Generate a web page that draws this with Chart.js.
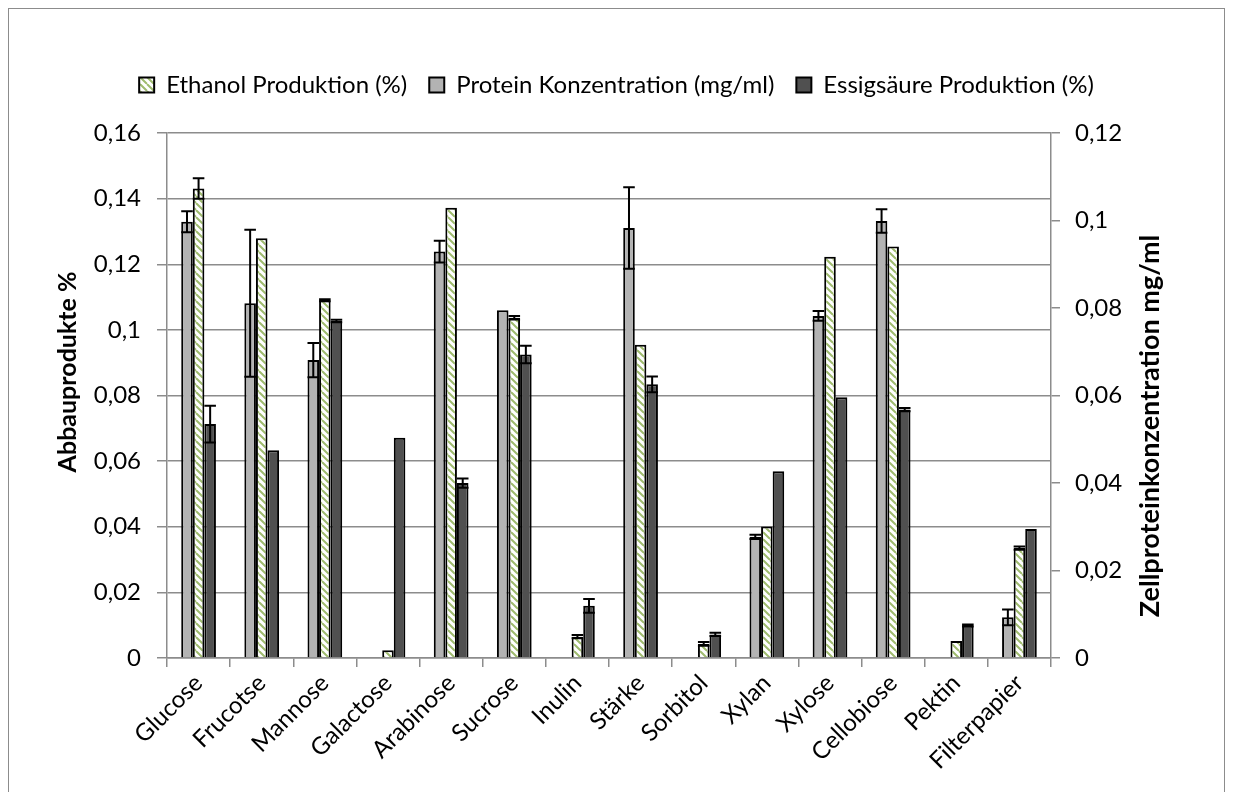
<!DOCTYPE html>
<html>
<head>
<meta charset="utf-8">
<script src="https://cdn.jsdelivr.net/npm/chart.js@4.4.1/dist/chart.umd.min.js"></script>
<style>
  html, body { margin: 0; padding: 0; background: #fff; }
  #chart { display: block; }
</style>
</head>
<body>
<canvas id="chart" width="1233" height="792"></canvas>
<script>
const categories = ["Glucose", "Frucotse", "Mannose", "Galactose", "Arabinose", "Sucrose", "Inulin",
  "Stärke", "Sorbitol", "Xylan", "Xylose", "Cellobiose", "Pektin", "Filterpapier"];

// Protein Konzentration (mg/ml), right axis
const proteinValues = [0.0997, 0.0811, 0.0681, 0, 0.0929, 0.0795, 0, 0.0983, 0, 0.0277, 0.0782, 0.0999, 0, 0.0093];
const proteinErrors = [0.0024, 0.0168, 0.0039, null, 0.0025, null, null, 0.0093, null, 0.0005, 0.0011, 0.0027, null, 0.0018];

// Ethanol Produktion (%), left axis
const ethanolValues = [0.1431, 0.1279, 0.1090, 0.0024, 0.1372, 0.1037, 0.0065, 0.0955, 0.0043, 0.0401, 0.1223, 0.1254, 0.0052, 0.0335];
const ethanolErrors = [0.0031, null, 0.0003, null, null, 0.0005, 0.0005, null, 0.0006, null, null, null, null, 0.0005];

// Essigsäure Produktion (%), left axis
const essigValues = [0.0713, 0.0633, 0.1027, 0.0671, 0.0533, 0.0925, 0.0159, 0.0834, 0.0072, 0.0569, 0.0795, 0.0757, 0.0099, 0.0393];
const essigErrors = [0.0056, null, 0.0004, null, 0.0014, 0.0027, 0.0021, 0.0024, 0.0005, null, null, 0.0005, 0.0003, null];

const legendOrder = { 1: 0, 0: 1, 2: 2 };

const FONT = "Lato, 'Open Sans', sans-serif";
const gridColor = "#8c8c8c";

function hatch() {
  const c = document.createElement("canvas");
  c.width = 7; c.height = 7;
  const g = c.getContext("2d");
  g.fillStyle = "#fff";
  g.fillRect(0, 0, 7, 7);
  g.strokeStyle = "#9fbb6e";
  g.lineWidth = 2;
  g.beginPath();
  for (let k = -7; k <= 7; k += 7) {
    g.moveTo(k, 0);
    g.lineTo(k + 7, 7);
  }
  g.stroke();
  return g.createPattern(c, "repeat");
}

const fmt = (v) => String(+Number(v).toFixed(2)).replace(".", ",");

const errorBars = {
  id: "errorBars",
  afterDatasetsDraw(chart) {
    const ctx = chart.ctx;
    chart.data.datasets.forEach((ds, i) => {
      const meta = chart.getDatasetMeta(i);
      const scale = chart.scales[ds.yAxisID];
      meta.data.forEach((bar, j) => {
        const e = ds.errors[j];
        if (e == null) return;
        const v = ds.data[j];
        const yt = scale.getPixelForValue(v + e);
        const yb = scale.getPixelForValue(v - e);
        const half = bar.width / 2;
        ctx.save();
        ctx.strokeStyle = "#000";
        ctx.lineWidth = 2;
        ctx.beginPath();
        ctx.moveTo(bar.x, yt); ctx.lineTo(bar.x, yb);
        ctx.moveTo(bar.x - half, yt); ctx.lineTo(bar.x + half, yt);
        ctx.moveTo(bar.x - half, yb); ctx.lineTo(bar.x + half, yb);
        ctx.stroke();
        ctx.restore();
      });
    });
  }
};

const frameAndTitles = {
  id: "frameAndTitles",
  afterInit(chart) {
    const lg = chart.legend;
    const fit = lg.fit;
    lg.fit = function () {
      fit.call(this);
      this.height = 134 - 52;
    };
  },
  beforeDraw(chart) {
    const ctx = chart.ctx;
    ctx.save();
    ctx.fillStyle = "#fff";
    ctx.fillRect(0, 0, chart.width, chart.height);
    ctx.strokeStyle = "#8c8c8c";
    ctx.lineWidth = 1;
    ctx.strokeRect(8.5, 8.5, 1216, 800);
    ctx.restore();
  },
  afterDraw(chart) {
    const ctx = chart.ctx;
    ctx.save();
    ctx.fillStyle = "#000";
    ctx.font = "bold 25px " + FONT;
    ctx.textAlign = "center";
    ctx.textBaseline = "middle";
    ctx.translate(68, 372);
    ctx.rotate(-Math.PI / 2);
    ctx.fillText("Abbauprodukte %", 0, 0);
    ctx.restore();
    ctx.save();
    ctx.fillStyle = "#000";
    ctx.font = "bold 27px " + FONT;
    ctx.textAlign = "center";
    ctx.textBaseline = "middle";
    ctx.translate(1150, 426);
    ctx.rotate(-Math.PI / 2);
    ctx.fillText("Zellproteinkonzentration mg/ml", 0, 0);
    ctx.restore();
  }
};

const ctx = document.getElementById("chart").getContext("2d");

new Chart(ctx, {
  type: "bar",
  data: {
    labels: categories,
    datasets: [
      {
        label: "Protein Konzentration (mg/ml)",
        data: proteinValues,
        errors: proteinErrors,
        yAxisID: "y1",
        backgroundColor: "#b3b3b3",
        borderColor: "#000",
        borderWidth: 2
      },
      {
        label: "Ethanol Produktion (%)",
        data: ethanolValues,
        errors: ethanolErrors,
        yAxisID: "y",
        backgroundColor: hatch(),
        borderColor: "#000",
        borderWidth: 2
      },
      {
        label: "Essigsäure Produktion (%)",
        data: essigValues,
        errors: essigErrors,
        yAxisID: "y",
        backgroundColor: "#505050",
        borderColor: "#000",
        borderWidth: 2
      }
    ]
  },
  options: {
    responsive: false,
    animation: false,
    layout: { padding: { top: 51, left: 0, right: 0, bottom: 0 } },
    datasets: { bar: { categoryPercentage: 0.55, barPercentage: 1.0 } },
    plugins: {
      legend: {
        position: "top",
        labels: {
          color: "#000",
          font: { family: FONT, size: 24 },
          boxWidth: 15,
          boxHeight: 15,
          padding: 22,
          sort: (a, b) => legendOrder[a.datasetIndex] - legendOrder[b.datasetIndex]
        }
      },
      tooltip: { enabled: false }
    },
    scales: {
      x: {
        afterFit: (s) => { s.height = 134; },
        grid: { offset: true, drawOnChartArea: false, color: gridColor, lineWidth: 1.5, tickLength: 9 },
        border: { color: gridColor, width: 1.5 },
        ticks: {
          autoSkip: false,
          maxRotation: 45,
          minRotation: 45,
          padding: 2,
          color: "#000",
          font: { family: FONT, size: 24 }
        }
      },
      y: {
        position: "left",
        min: 0,
        max: 0.16,
        afterFit: (s) => { s.width = 167; },
        grid: { color: gridColor, lineWidth: 1.5, tickLength: 10 },
        border: { color: gridColor, width: 1.5 },
        ticks: {
          stepSize: 0.02,
          padding: 16,
          color: "#000",
          font: { family: FONT, size: 24 },
          callback: (v) => fmt(v)
        }
      },
      y1: {
        position: "right",
        min: 0,
        max: 0.12,
        afterFit: (s) => { s.width = 182; },
        grid: { drawOnChartArea: false, color: gridColor, lineWidth: 1.5, tickLength: 9 },
        border: { color: gridColor, width: 1.5 },
        ticks: {
          stepSize: 0.02,
          padding: 15,
          color: "#000",
          font: { family: FONT, size: 24 },
          callback: (v) => fmt(v)
        }
      }
    }
  },
  plugins: [errorBars, frameAndTitles]
});
</script>
</body>
</html>
